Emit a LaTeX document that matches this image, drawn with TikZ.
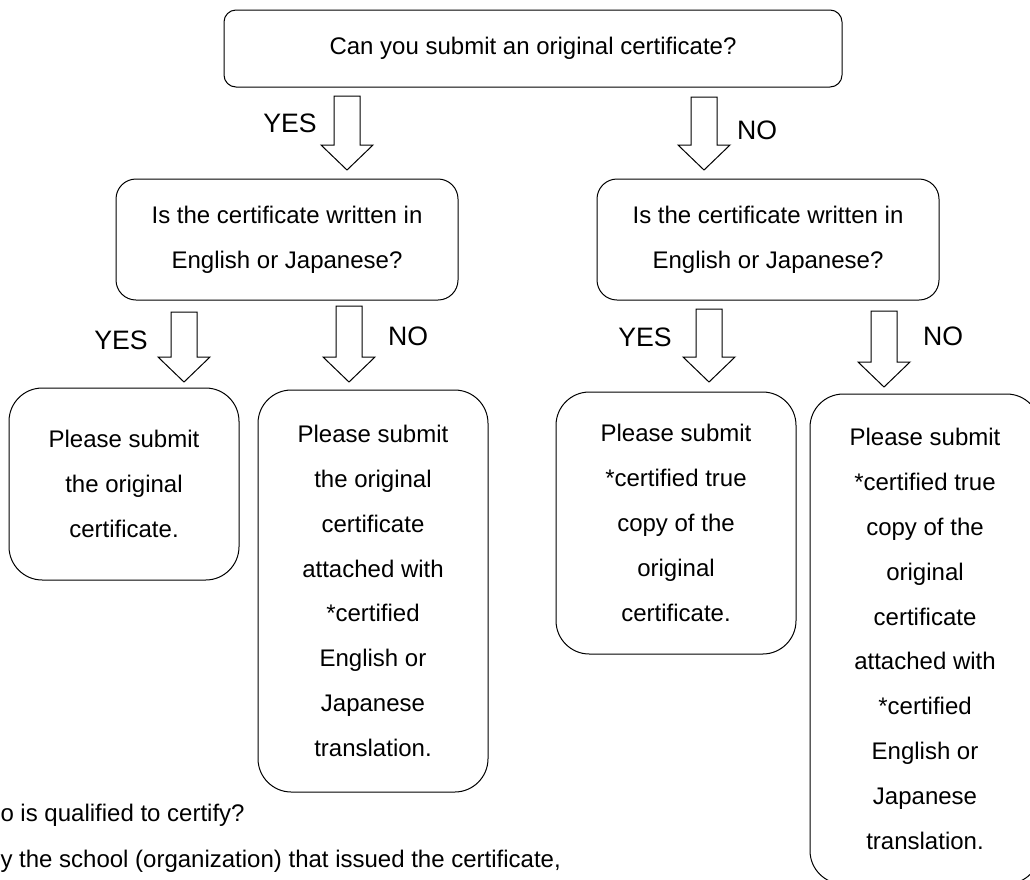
\documentclass[tikz,border=0pt]{standalone}
\usepackage{fontspec}
\setmainfont{Liberation Sans}
\usetikzlibrary{positioning}
\tikzstyle{box} = [draw, rectangle, align=center, inner sep=0pt, font=\fontsize{18}{33.6}\selectfont]
\tikzstyle{qbox} = [box, rounded corners=15pt, minimum width=256.5pt, minimum height=90.75pt]
\tikzstyle{abox} = [box, rounded corners=25pt, minimum width=172.5pt]
\tikzstyle{lbl} = [font=\fontsize{20}{24}\selectfont, inner sep=0pt]
% hollow block arrow: top centre, shaft length
\newcommand{\blockdown}[2]{\draw (#1) ++(-13,0) -- ++(26,0) -- ++(0,#2) -- ++(13,0) -- ++(-26,25) -- ++(-26,-25) -- ++(13,0) -- cycle;}

\begin{document}
\begin{tikzpicture}[x=0.75pt,y=-0.75pt,line width=0.75pt]
      \useasboundingbox (0,0) rectangle (1030,879);
      \node[box, rounded corners=9pt, minimum width=463.5pt, minimum height=57.75pt] (start) at (533,48.5) {Can you submit an original certificate?};
      \node[qbox] (langorig) at (287,239.5) {Is the certificate written in\\English or Japanese?};
      \node[qbox] (langcopy) at (768,239.5) {Is the certificate written in\\English or Japanese?};
      \node[abox, minimum height=144pt] (origonly) at (124,484) {Please submit\\the original\\certificate.};
      \node[abox, minimum height=301.5pt] (origtrans) at (373,591) {Please submit\\the original\\certificate\\attached with\\*certified\\English or\\Japanese\\translation.};
      \node[abox, minimum width=180pt, minimum height=196.5pt] (copyonly) at (676,523) {Please submit\\*certified true\\copy of the\\original\\certificate.};
      \node[abox, minimum height=367.5pt] (copytrans) at (925,639) {Please submit\\*certified true\\copy of the\\original\\certificate\\attached with\\*certified\\English or\\Japanese\\translation.};
      % block arrows
      \coordinate (a1) at (347,96);
      \coordinate (a2) at (704,97);
      \coordinate (a3) at (184,312);
      \coordinate (a4) at (349,306);
      \coordinate (a5) at (709,309);
      \coordinate (a6) at (884,311);
      \blockdown{a1}{49}
      \blockdown{a2}{48}
      \blockdown{a3}{45}
      \blockdown{a4}{51}
      \blockdown{a5}{48}
      \blockdown{a6}{51}
      \node[lbl] (yes1) at (290,123) {YES};
      \node[lbl] (no1) at (757,130) {NO};
      \node[lbl] (yes2) at (121,340) {YES};
      \node[lbl] (no2) at (408,336) {NO};
      \node[lbl] (yes3) at (645,337) {YES};
      \node[lbl] (no3) at (943,336) {NO};
      % note below
      \node[anchor=base west, inner sep=0pt, font=\fontsize{18}{22}\selectfont] (who) at (0,821) {o is qualified to certify?};
      \node[anchor=base west, inner sep=0pt, font=\fontsize{18}{22}\selectfont] (bywhom) at (0,867) {y the school (organization) that issued the certificate,};
\end{tikzpicture}
\end{document}
